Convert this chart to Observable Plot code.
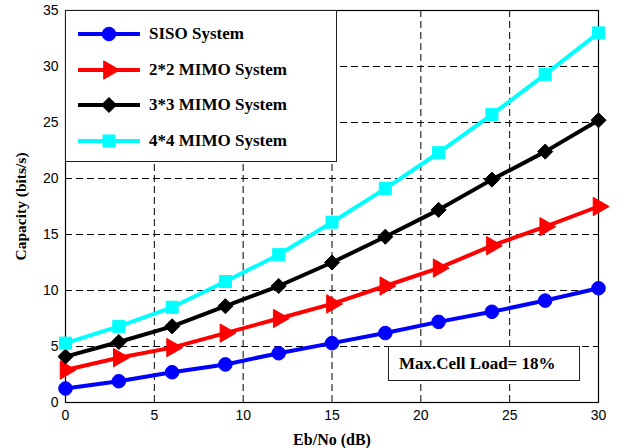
<!DOCTYPE html>
<html><head><meta charset="utf-8">
<script src="https://cdn.jsdelivr.net/npm/d3@7"></script>
<script src="https://cdn.jsdelivr.net/npm/@observablehq/plot@0.6"></script>
<style>
body{margin:0;background:#fff}
#wrap{position:relative;width:624px;height:448px;background:#fff}
.box{position:absolute;background:#fff;border:1.4px solid #222;box-sizing:border-box;font-family:"Liberation Serif","Times New Roman",serif;font-weight:bold;color:#000}
</style></head><body><div id="wrap"></div>
<script>
const ebno = [0, 3, 6, 9, 12, 15, 18, 21, 24, 27, 30];
const seriesNames = ["SISO System", "2*2 MIMO System", "3*3 MIMO System", "4*4 MIMO System"];
const seriesColors = ["#0000ff", "#ff0000", "#000000", "#00ffff"];
const seriesSymbols = ["circle", "triangle", "diamond2", "square"];
const seriesRotate = [0, 90, 0, 0];
const siso = [1.25, 1.9, 2.7, 3.4, 4.4, 5.3, 6.2, 7.2, 8.1, 9.1, 10.2];
const mimo2 = [2.9, 4.0, 4.9, 6.2, 7.5, 8.8, 10.4, 12.0, 14.0, 15.7, 17.5];
const mimo3 = [4.1, 5.4, 6.8, 8.6, 10.4, 12.5, 14.8, 17.2, 19.9, 22.4, 25.2];
const mimo4 = [5.3, 6.8, 8.5, 10.8, 13.2, 16.1, 19.1, 22.3, 25.7, 29.3, 33.0];
const xTicks = [0, 5, 10, 15, 20, 25, 30];
const yTicks = [0, 5, 10, 15, 20, 25, 30, 35];
const annotation = "Max.Cell Load= 18%";

const allSeries = [siso, mimo2, mimo3, mimo4];
const data = [];
allSeries.forEach((vals, i) => vals.forEach((v, j) => data.push({x: ebno[j], y: v, s: seriesNames[i], idx: i})));

const tickFont = {fontSize: 14, fontFamily: "'Liberation Sans', Arial, sans-serif"};

const chart = Plot.plot({
  width: 624, height: 448,
  marginLeft: 65, marginRight: 26, marginTop: 10, marginBottom: 46,
  style: {background: "#fff", color: "#000", overflow: "visible"},
  x: {domain: [0, 30], ticks: xTicks},
  y: {domain: [0, 35], ticks: yTicks},
  color: {domain: seriesNames, range: seriesColors},
  symbol: {domain: seriesNames, range: seriesSymbols},
  marks: [
    Plot.gridX(xTicks.slice(1, -1), {stroke: "#000", strokeOpacity: 1, strokeDasharray: "7,4", strokeWidth: 1}),
    Plot.gridY(yTicks.slice(1, -1), {stroke: "#000", strokeOpacity: 1, strokeDasharray: "7,4", strokeWidth: 1}),
    Plot.frame({stroke: "#000", strokeWidth: 1.2}),
    Plot.axisX(xTicks, {tickSize: 0, tickPadding: 8, ...tickFont, label: "Eb/No (dB)", labelAnchor: "center", labelOffset: 42, labelArrow: "none"}),
    Plot.axisY(yTicks, {tickSize: 0, tickPadding: 7, ...tickFont, label: "Capacity (bits/s)", labelAnchor: "center", labelOffset: 51, labelArrow: "none"}),
    Plot.line(data, {x: "x", y: "y", z: "s", stroke: "s", strokeWidth: 4}),
    Plot.dot(data, {x: "x", y: "y", symbol: "s", fill: "s", stroke: "s", strokeWidth: 1, r: 6.8, rotate: d => seriesRotate[d.idx]})
  ]
});

d3.select(chart).selectAll('g[aria-label="x-axis label"] text')
  .attr("font-family", "'Liberation Serif', 'Times New Roman', serif")
  .attr("font-weight", "bold")
  .attr("font-size", 16);
d3.select(chart).selectAll('g[aria-label="y-axis label"] text')
  .attr("font-family", "'Liberation Serif', 'Times New Roman', serif")
  .attr("font-weight", "bold")
  .attr("font-size", 15.5);

const wrap = document.getElementById("wrap");
wrap.appendChild(chart);

// Legend (overlay)
const legend = document.createElement("div");
legend.className = "box";
Object.assign(legend.style, {left: "65px", top: "10px", width: "272px", height: "152px"});
const symMap = {circle: d3.symbolCircle, triangle: d3.symbolTriangle, diamond2: d3.symbolDiamond2, square: d3.symbolSquare};
seriesNames.forEach((name, i) => {
  const row = document.createElement("div");
  Object.assign(row.style, {position: "absolute", left: "12px", top: (12 + i * 35.7) + "px", height: "22px", display: "flex", alignItems: "center", fontSize: "17px", whiteSpace: "nowrap"});
  const svg = d3.create("svg").attr("width", 64).attr("height", 22).style("overflow", "visible");
  svg.append("line").attr("x1", 0).attr("x2", 62).attr("y1", 11).attr("y2", 11).attr("stroke", seriesColors[i]).attr("stroke-width", 4);
  svg.append("path").attr("d", d3.symbol(symMap[seriesSymbols[i]], 145)())
    .attr("transform", `translate(31,11) rotate(${seriesRotate[i]})`)
    .attr("fill", seriesColors[i]).attr("stroke", seriesColors[i]);
  row.appendChild(svg.node());
  const t = document.createElement("span");
  t.textContent = name;
  t.style.marginLeft = "7px";
  row.appendChild(t);
  legend.appendChild(row);
});
wrap.appendChild(legend);

const ann = document.createElement("div");
ann.className = "box";
Object.assign(ann.style, {left: "388px", top: "346px", width: "192px", height: "35px", fontSize: "17px", paddingLeft: "10px", lineHeight: "33px", whiteSpace: "nowrap"});
ann.textContent = annotation;
wrap.appendChild(ann);
</script>
</body></html>
